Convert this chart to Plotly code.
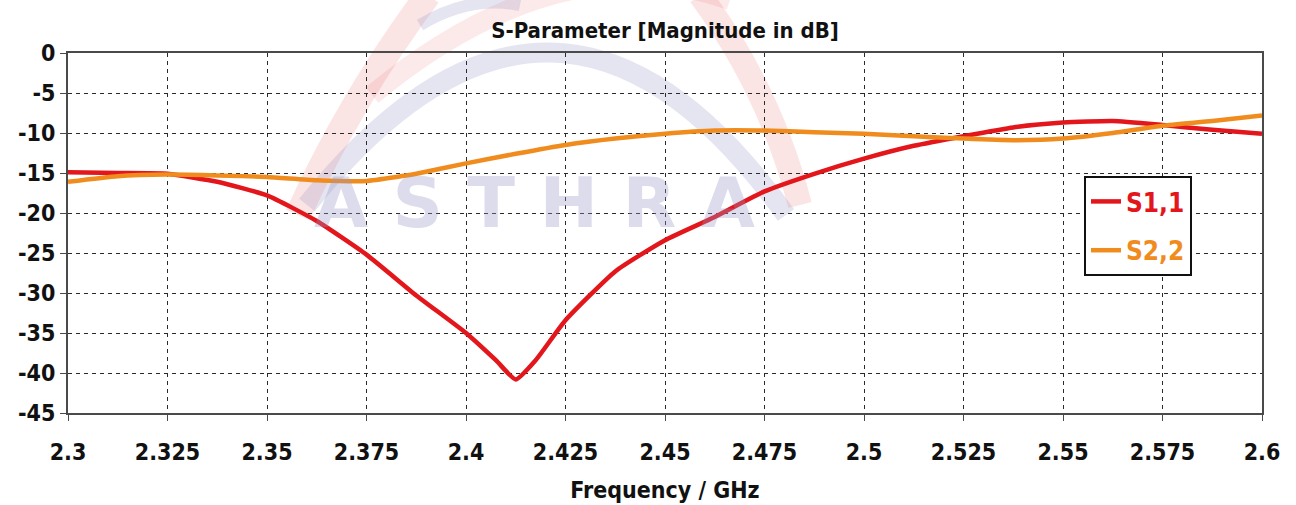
import plotly.graph_objects as go

# ---- data ----
freq_s11 = [2.300, 2.3125, 2.325, 2.3375, 2.350, 2.3625, 2.375, 2.3875, 2.400, 2.4075,
            2.4125, 2.4175, 2.425, 2.4375, 2.450, 2.4625, 2.475, 2.4875, 2.500, 2.5125,
            2.525, 2.5375, 2.550, 2.5625, 2.575, 2.5875, 2.600]
s11_db = [-14.9, -15.0, -15.1, -16.1, -17.8, -21.0, -25.2, -30.3, -35.0, -38.4,
          -40.8, -38.4, -33.4, -27.3, -23.4, -20.5, -17.3, -15.1, -13.2, -11.6,
          -10.4, -9.3, -8.7, -8.5, -9.0, -9.6, -10.1]

freq_s22 = [2.300, 2.3125, 2.325, 2.3375, 2.350, 2.3625, 2.375, 2.3825, 2.3875, 2.400,
            2.4125, 2.425, 2.4375, 2.450, 2.4625, 2.475, 2.4875, 2.500, 2.5125, 2.525,
            2.5375, 2.550, 2.5625, 2.575, 2.5875, 2.600]
s22_db = [-16.1, -15.4, -15.2, -15.3, -15.5, -15.9, -16.0, -15.5, -15.1, -13.8,
          -12.6, -11.5, -10.7, -10.1, -9.7, -9.7, -9.9, -10.1, -10.4, -10.7,
          -10.9, -10.7, -10.0, -9.1, -8.5, -7.8]

x_ticks = [2.3, 2.325, 2.35, 2.375, 2.4, 2.425, 2.45, 2.475, 2.5, 2.525, 2.55, 2.575, 2.6]
x_tick_labels = ["2.3", "2.325", "2.35", "2.375", "2.4", "2.425", "2.45", "2.475",
                 "2.5", "2.525", "2.55", "2.575", "2.6"]
y_ticks = [0, -5, -10, -15, -20, -25, -30, -35, -40, -45]
y_tick_labels = ["0", "-5", "-10", "-15", "-20", "-25", "-30", "-35", "-40", "-45"]

series_names = ["S1,1", "S2,2"]
RED = "#e3161b"
ORANGE = "#f08c1e"

FONT = "DejaVu Sans Condensed, Liberation Sans Narrow, sans-serif"

# plot-area geometry in pixels (used only for layout / decorative watermark placement)
PX0, PW, PY0, PH = 68, 1194, 53, 360


def px(xp):
    return (xp - PX0) / PW


def py(yp):
    return (PY0 + PH - yp) / PH


fig = go.Figure()
fig.add_trace(go.Scatter(
    x=freq_s11, y=s11_db, mode="lines", line=dict(color=RED, width=4.5, shape="spline", smoothing=0.5),
    name=f"<span style='color:{RED}'>{series_names[0]}</span>", legendgroup="a"))
fig.add_trace(go.Scatter(
    x=freq_s22, y=s22_db, mode="lines", line=dict(color=ORANGE, width=4.5, shape="spline", smoothing=0.5),
    name=f"<span style='color:{ORANGE}'>{series_names[1]}</span>", legendgroup="b"))

axis_common = dict(
    showline=True, linecolor="#4a4a4a", linewidth=2, mirror=True,
    showgrid=True, gridcolor="#2a2a2a", gridwidth=1, griddash="4px,4px",
    zeroline=False, ticks="outside", ticklen=6, tickcolor="#4a4a4a", tickwidth=1,
    tickfont=dict(family=FONT, size=23, color="#111111", weight="bold"),
)

fig.update_xaxes(range=[2.3, 2.6], tickvals=x_ticks, ticktext=x_tick_labels,
                 ticklabelstandoff=11,
                 title=dict(text="Frequency / GHz", standoff=18,
                            font=dict(family=FONT, size=23, color="#111111", weight="bold")),
                 **axis_common)
fig.update_yaxes(range=[-45, 0], tickvals=y_ticks, ticktext=y_tick_labels, **axis_common)


def seg(x0, y0, cx, cy, x1, y1):
    return f"M {px(x0)},{py(y0)} Q {px(cx)},{py(cy)} {px(x1)},{py(y1)}"


# faint logo watermark (decoration)
wm = [
    (seg(298, 215, 350, 100, 428, -5), "rgba(235,120,120,0.20)", 26),
    (seg(700, -5, 770, 90, 800, 205), "rgba(235,120,120,0.20)", 24),
    (seg(372, 95, 560, -60, 730, 0), "rgba(235,120,120,0.16)", 20),
    (seg(307, 205, 556, -105, 786, 215), "rgba(150,150,200,0.25)", 20),
    (seg(420, 25, 470, -5, 520, 5), "rgba(150,150,200,0.25)", 12),
]
for path, col, w in wm:
    fig.add_shape(type="path", path=path, xref="paper", yref="paper",
                  line=dict(color=col, width=w), layer="below")

fig.add_annotation(text="A S T H R A", xref="paper", yref="paper", x=px(534),
                   y=py(203), showarrow=False,
                   font=dict(family="DejaVu Sans", size=70, color="rgba(150,150,200,0.33)", weight="bold"))

fig.update_layout(
    width=1296, height=505,
    margin=dict(l=PX0, r=1296 - PX0 - PW, t=PY0, b=505 - PY0 - PH, autoexpand=False),
    paper_bgcolor="white", plot_bgcolor="rgba(0,0,0,0)",
    title=dict(text="S-Parameter [Magnitude in dB]", x=0.5, xref="paper",
               y=1 - 30 / 505, yref="container", yanchor="middle", xanchor="center",
               font=dict(family=FONT, size=22, color="#111111", weight="bold")),
    legend=dict(x=px(1084), y=py(176), xanchor="left", yanchor="top",
                bgcolor="white", bordercolor="#111111", borderwidth=2,
                font=dict(family=FONT, size=26, weight="bold"),
                tracegroupgap=12, traceorder="grouped"),
    showlegend=True,
)

fig.write_html("out.html", config={"displayModeBar": False},
               post_script="document.body.style.margin='0px';")
